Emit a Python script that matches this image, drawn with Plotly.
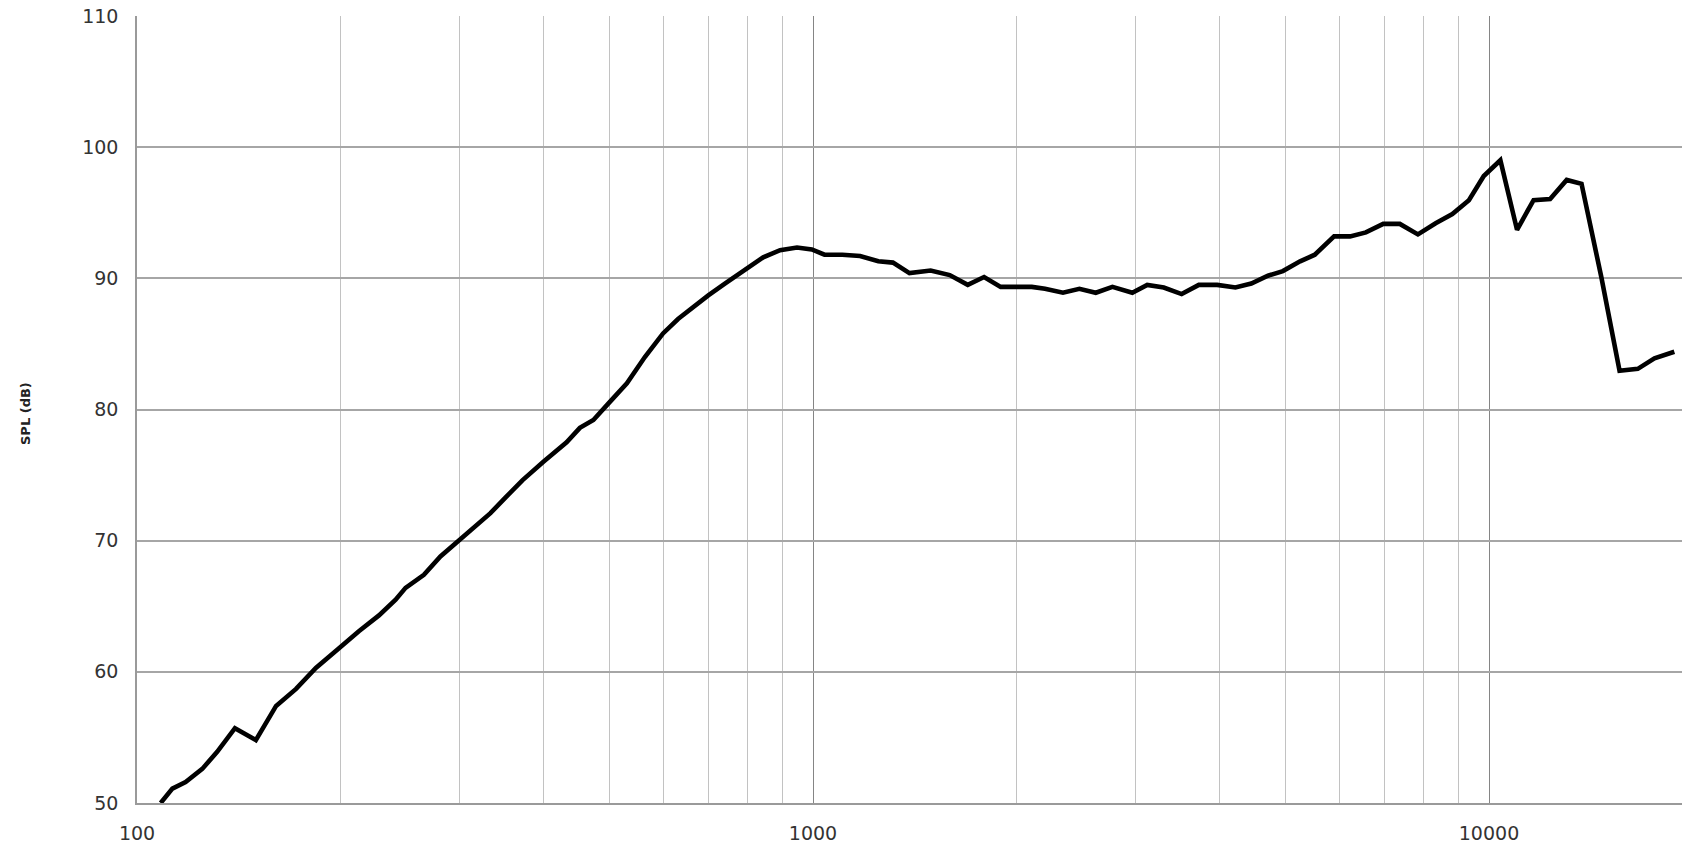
import plotly.graph_objects as go

freq_hz = [108.4, 112.8, 118.0, 124.9, 131.4, 139.6, 149.9, 160.6, 171.9, 183.9,
           199.0, 212.9, 228, 241.3, 249.6, 265.7, 281.1, 299.2, 313.0, 333.3,
           351.0, 371.6, 398.8, 432, 452, 473.3, 501, 530.5, 564, 600,
           631.5, 664, 700, 740.7, 797.5, 844, 894, 947, 996, 1040,
           1105, 1174, 1249, 1313, 1389, 1493, 1593, 1694, 1791, 1895,
           2107, 2204, 2343, 2478, 2620, 2773, 2967, 3122, 3303, 3510,
           3722, 3962, 4216, 4450, 4710, 4955, 5255, 5525, 5900, 6230,
           6575, 6975, 7380, 7850, 8338, 8826, 9339, 9823, 10395, 11002,
           11640, 12315, 13030, 13705, 14660, 15600, 16600, 17570, 18800]
spl_db = [50.0, 51.1, 51.6, 52.6, 53.9, 55.7, 54.8, 57.4, 58.7, 60.3,
          61.8, 63.1, 64.3, 65.5, 66.4, 67.4, 68.8, 70.0, 70.9, 72.1,
          73.3, 74.6, 76.0, 77.5, 78.6, 79.2, 80.6, 82.0, 84.0, 85.8,
          86.9, 87.8, 88.7, 89.6, 90.75, 91.6, 92.15, 92.35, 92.2, 91.8,
          91.8, 91.7, 91.3, 91.2, 90.4, 90.6, 90.25, 89.5, 90.1, 89.35,
          89.35, 89.2, 88.9, 89.2, 88.9, 89.35, 88.9, 89.5, 89.3, 88.8,
          89.5, 89.5, 89.3, 89.6, 90.2, 90.55, 91.3, 91.8, 93.2, 93.2,
          93.5, 94.15, 94.15, 93.35, 94.2, 94.9, 95.96, 97.8, 99.0, 93.7,
          95.96, 96.05, 97.5, 97.2, 90.1, 82.95, 83.1, 83.9, 84.4]

x_tick_vals = [100, 1000, 10000]
x_tick_text = ["100", "1000", "10000"]
y_tick_vals = [50, 60, 70, 80, 90, 100, 110]
y_title = "SPL (dB)"

W, H = 1682, 848
L, R, T, B = 137, 0, 16, 45
plot_w = W - L - R
plot_h = H - T - B

fig = go.Figure()
fig.add_trace(go.Scatter(x=freq_hz, y=spl_db, mode="lines",
                         line=dict(color="black", width=4.6),
                         showlegend=False, hoverinfo="x+y"))

fig.update_layout(
    width=W, height=H,
    margin=dict(l=L, r=R, t=T, b=B),
    paper_bgcolor="white", plot_bgcolor="white",
    font=dict(family="DejaVu Sans", size=19, color="#333333"),
    xaxis=dict(type="log", range=[2, 2 + plot_w / 676],
               tickvals=x_tick_vals, ticktext=x_tick_text,
               showgrid=True, gridcolor="#858585", gridwidth=1.4,
               minor=dict(dtick="D1", showgrid=True, gridcolor="#c2c2c2", gridwidth=1.4),
               showline=True, linecolor="#9a9a9a", linewidth=1.5,
               ticks="", ticklabelstandoff=12, zeroline=False),
    yaxis=dict(range=[50, 110], tickvals=y_tick_vals,
               showgrid=True, gridcolor="#a6a6a6", gridwidth=1.5,
               showline=True, linecolor="#9a9a9a", linewidth=1.5,
               ticks="", ticklabelstandoff=13, zeroline=False),
    annotations=[dict(text="<b>" + y_title + "</b>", xref="paper", yref="paper",
                      x=(25 - L) / plot_w, xanchor="center",
                      y=(H - B - 414) / plot_h, yanchor="middle",
                      showarrow=False, textangle=-90,
                      font=dict(family="DejaVu Sans", size=13, color="#222222"))],
)

fig.write_html("out.html", config={"displayModeBar": False},
               post_script="document.body.style.margin='0';document.body.style.overflow='hidden';")
